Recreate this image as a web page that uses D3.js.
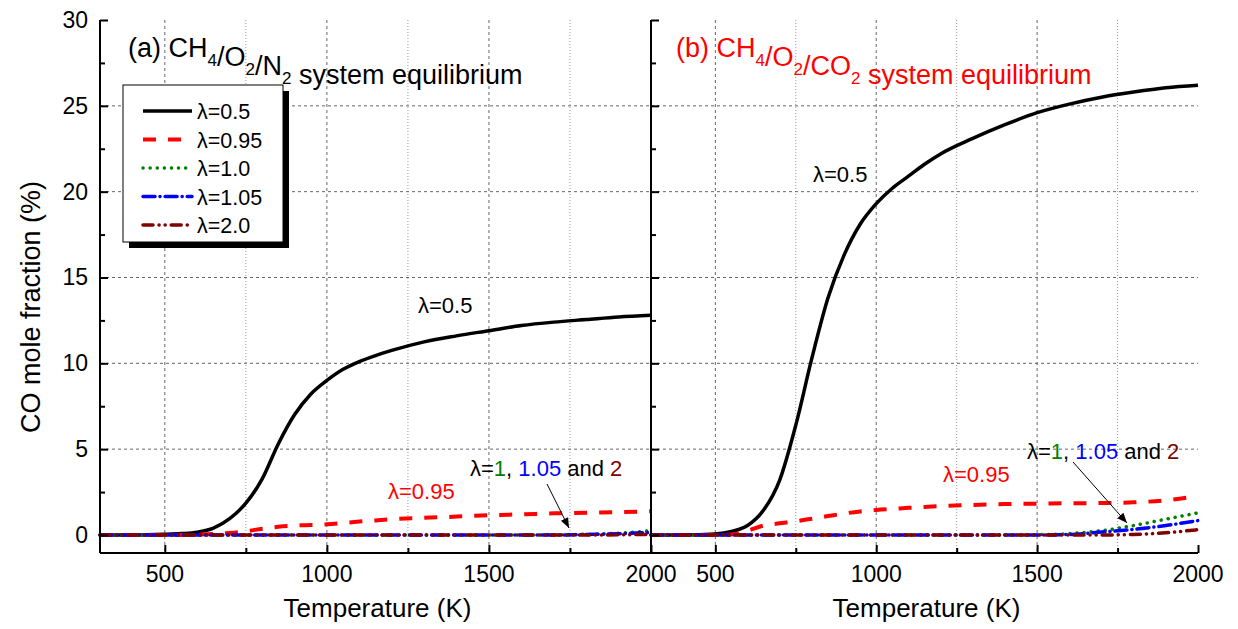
<!doctype html>
<html>
<head>
<meta charset="UTF-8">
<title>CO mole fraction equilibrium</title>
<script src="https://d3js.org/d3.v7.min.js"></script>
<style>
  body { margin: 0; background: #fff; }
  text { font-family: Arial, "Liberation Sans", sans-serif; }
</style>
</head>
<body>
<svg id="chart" width="1238" height="629"></svg>
<script>
// temperature grid (K) shared by all curves
var temps = [300, 400, 500, 550, 600, 650, 700, 750, 800, 850, 900, 950, 1000, 1050,
             1100, 1150, 1200, 1300, 1400, 1500, 1600, 1700, 1800, 1900, 2000];

// (a) CH4/O2/N2 - CO mole fraction (%)
var n2_l050 = [0, 0, 0.04, 0.08, 0.16, 0.4, 0.95, 1.85, 3.25, 5.3, 7.0, 8.2, 9.0, 9.65,
               10.1, 10.45, 10.75, 11.25, 11.6, 11.9, 12.2, 12.4, 12.55, 12.7, 12.8];
var n2_l095 = [0, 0, 0, 0, 0.02, 0.06, 0.12, 0.22, 0.36, 0.48, 0.55, 0.58, 0.62, 0.7,
               0.78, 0.85, 0.92, 1.0, 1.07, 1.15, 1.2, 1.26, 1.3, 1.33, 1.38];
var n2_l100 = [0, 0, 0, 0, 0, 0, 0, 0, 0, 0, 0, 0, 0, 0,
               0, 0, 0, 0, 0, 0, 0, 0.01, 0.04, 0.1, 0.25];
var n2_l105 = [0, 0, 0, 0, 0, 0, 0, 0, 0, 0, 0, 0, 0, 0,
               0, 0, 0, 0, 0, 0, 0, 0, 0.03, 0.07, 0.15];
var n2_l200 = [0, 0, 0, 0, 0, 0, 0, 0, 0, 0, 0, 0, 0, 0,
               0, 0, 0, 0, 0, 0, 0, 0, 0, 0.01, 0.04];

// (b) CH4/O2/CO2 - CO mole fraction (%)
var co2_l050 = [0, 0, 0.06, 0.2, 0.55, 1.45, 3.2, 6.4, 10.3, 13.8, 16.3, 18.1, 19.3, 20.2,
                20.9, 21.6, 22.2, 23.1, 23.9, 24.6, 25.1, 25.5, 25.8, 26.05, 26.2];
var co2_l095 = [0, 0, 0, 0.03, 0.25, 0.55, 0.68, 0.8, 0.95, 1.1, 1.25, 1.37, 1.46, 1.52,
                1.58, 1.63, 1.68, 1.75, 1.8, 1.82, 1.85, 1.86, 1.9, 2.02, 2.26];
var co2_l100 = [0, 0, 0, 0, 0, 0, 0, 0, 0, 0, 0, 0, 0, 0,
                0, 0, 0, 0, 0, 0.02, 0.08, 0.25, 0.55, 0.92, 1.29];
var co2_l105 = [0, 0, 0, 0, 0, 0, 0, 0, 0, 0, 0, 0, 0, 0,
                0, 0, 0, 0, 0, 0, 0.03, 0.17, 0.33, 0.55, 0.84];
var co2_l200 = [0, 0, 0, 0, 0, 0, 0, 0, 0, 0, 0, 0, 0, 0,
                0, 0, 0, 0, 0, 0, 0, 0, 0.03, 0.13, 0.31];

var legendLabels = ["\u03bb=0.5", "\u03bb=0.95", "\u03bb=1.0", "\u03bb=1.05", "\u03bb=2.0"];
var xTicks = [500, 1000, 1500, 2000];
var yTicks = [0, 5, 10, 15, 20, 25, 30];

// line styles per lambda
var styles = [
  {color: "#000000", width: 3.5, dash: null,                 cap: "butt"},
  {color: "#ff0000", width: 4,   dash: "13,12",              cap: "butt"},
  {color: "#008000", width: 3.5, dash: "0.1,7",              cap: "round"},
  {color: "#0000ff", width: 3.5, dash: "12,5,0.1,5",         cap: "round"},
  {color: "#800000", width: 3.5, dash: "10,6,0.1,6,0.1,6",   cap: "round"}
];

var svg = d3.select("#chart");
var plotTop = 20, plotBottom = 553;

var y = d3.scaleLinear().domain([-1.05, 30]).range([plotBottom, plotTop]);

var panels = [
  {x0: 100, x1: 651, series: [n2_l050, n2_l095, n2_l100, n2_l105, n2_l200]},
  {x0: 651, x1: 1198, series: [co2_l050, co2_l095, co2_l100, co2_l105, co2_l200]}
];

panels.forEach(function(p) {
  var x = d3.scaleLinear().domain([300, 2000]).range([p.x0, p.x1]);
  var g = svg.append("g");

  // grid
  [750, 1250, 1750].forEach(function(t) {
    g.append("line").attr("x1", x(t)).attr("x2", x(t)).attr("y1", plotTop).attr("y2", plotBottom)
      .attr("stroke", "#999").attr("stroke-width", 1).attr("stroke-dasharray", "1,2");
  });
  [500, 1000, 1500].forEach(function(t) {
    g.append("line").attr("x1", x(t)).attr("x2", x(t)).attr("y1", plotTop).attr("y2", plotBottom)
      .attr("stroke", "#666").attr("stroke-width", 1).attr("stroke-dasharray", "3,3");
  });
  [5, 10, 15, 20, 25].forEach(function(v) {
    g.append("line").attr("x1", p.x0).attr("x2", p.x1).attr("y1", y(v)).attr("y2", y(v))
      .attr("stroke", "#666").attr("stroke-width", 1).attr("stroke-dasharray", "3,3");
  });

  // curves, later series on top
  var line = d3.line().x(function(d, i) { return x(temps[i]); }).y(function(d) { return y(d); })
    .curve(d3.curveMonotoneX);
  p.series.forEach(function(vals, i) {
    var s = styles[i];
    g.append("path").datum(vals).attr("d", line)
      .attr("fill", "none").attr("stroke", s.color).attr("stroke-width", s.width)
      .attr("stroke-dasharray", s.dash).attr("stroke-linecap", s.cap);
  });

  // x axis (ticks inward)
  var xAxis = d3.axisTop(x).tickValues(xTicks).tickSize(8).tickFormat("");
  g.append("g").attr("transform", "translate(0," + plotBottom + ")").call(xAxis)
    .call(function(a) { a.select(".domain").remove(); });
  var xMinor = d3.axisTop(x).tickValues([750, 1250, 1750]).tickSize(5).tickFormat("");
  g.append("g").attr("transform", "translate(0," + plotBottom + ")").call(xMinor)
    .call(function(a) { a.select(".domain").remove(); });
  g.append("line").attr("x1", p.x0).attr("x2", p.x1).attr("y1", plotBottom).attr("y2", plotBottom)
    .attr("stroke", "#000").attr("stroke-width", 2);
  xTicks.forEach(function(t) {
    g.append("text").attr("x", x(t)).attr("y", plotBottom + 29).attr("text-anchor", "middle")
      .attr("font-size", 23).text(t);
  });
  g.append("text").attr("x", (p.x0 + p.x1) / 2 + 2).attr("y", 617).attr("text-anchor", "middle")
    .attr("font-size", 26).text("Temperature (K)");

  // y axis (ticks inward)
  var yAxis = d3.axisRight(y).tickValues(yTicks).tickSize(8).tickFormat("");
  g.append("g").attr("transform", "translate(" + p.x0 + ",0)").call(yAxis)
    .call(function(a) { a.select(".domain").remove(); });
  var yMinor = d3.axisRight(y).tickValues([2.5, 7.5, 12.5, 17.5, 22.5, 27.5]).tickSize(5).tickFormat("");
  g.append("g").attr("transform", "translate(" + p.x0 + ",0)").call(yMinor)
    .call(function(a) { a.select(".domain").remove(); });
  g.append("line").attr("x1", p.x0).attr("x2", p.x0).attr("y1", plotTop).attr("y2", plotBottom)
    .attr("stroke", "#000").attr("stroke-width", 2);
  g.selectAll(".tick line").attr("stroke-width", 2);
});

// y tick labels (left only)
yTicks.forEach(function(v) {
  svg.append("text").attr("x", 88).attr("y", y(v) + 8).attr("text-anchor", "end")
    .attr("font-size", 23).text(v);
});
svg.append("text").attr("transform", "translate(40,307) rotate(-90)")
  .attr("text-anchor", "middle").attr("font-size", 27).text("CO mole fraction (%)");

// titles with subscripts
function title(xp, parts, color) {
  var t = svg.append("text").attr("x", xp).attr("y", 57).attr("font-size", 27).attr("fill", color);
  parts.forEach(function(pt) {
    if (pt.sub) {
      t.append("tspan").attr("font-size", 17).attr("dy", 9).text(pt.sub);
      t.append("tspan").attr("dy", -9).text("");
    } else {
      t.append("tspan").text(pt.txt);
    }
  });
}
title(128, [{txt: "(a) CH"}, {sub: "4"}, {txt: "/O"}, {sub: "2"}, {txt: "/N"}, {sub: "2"}, {txt: " system equilibrium"}], "#000");
title(676, [{txt: "(b) CH"}, {sub: "4"}, {txt: "/O"}, {sub: "2"}, {txt: "/CO"}, {sub: "2"}, {txt: " system equilibrium"}], "#ff0000");

// legend
var leg = svg.append("g");
leg.append("rect").attr("x", 129).attr("y", 91).attr("width", 160).attr("height", 157).attr("fill", "#000");
leg.append("rect").attr("x", 123).attr("y", 85).attr("width", 160).attr("height", 157)
  .attr("fill", "#fff").attr("stroke", "#000").attr("stroke-width", 1);
legendLabels.forEach(function(lbl, i) {
  var yy = 111 + i * 28.5;
  var s = styles[i];
  leg.append("line").attr("x1", 143).attr("x2", 192).attr("y1", yy).attr("y2", yy)
    .attr("stroke", s.color).attr("stroke-width", s.width)
    .attr("stroke-dasharray", s.dash).attr("stroke-linecap", s.cap);
  leg.append("text").attr("x", 197).attr("y", yy + 8).attr("font-size", 21.5).text(lbl);
});

// annotations
function label(xp, yp, color, txt) {
  svg.append("text").attr("x", xp).attr("y", yp).attr("font-size", 22).attr("fill", color).text(txt);
}
function multi(xp, yp) {
  var t = svg.append("text").attr("x", xp).attr("y", yp).attr("font-size", 22);
  [["\u03bb=", "#000"], ["1", "#008000"], [", ", "#000"], ["1.05", "#0000ff"],
   [" and ", "#000"], ["2", "#800000"]].forEach(function(p) {
    t.append("tspan").attr("fill", p[1]).text(p[0]);
  });
}
svg.append("defs").append("marker").attr("id", "arr").attr("viewBox", "0 0 10 10")
  .attr("refX", 10).attr("refY", 5).attr("markerWidth", 12).attr("markerHeight", 10)
  .attr("markerUnits", "userSpaceOnUse").attr("orient", "auto")
  .append("path").attr("d", "M0,1 L10,5 L0,9 Z").attr("fill", "#000");
function arrow(x1, y1, x2, y2) {
  svg.append("line").attr("x1", x1).attr("y1", y1).attr("x2", x2).attr("y2", y2)
    .attr("stroke", "#000").attr("stroke-width", 1).attr("marker-end", "url(#arr)");
}

label(418, 313, "#000", "\u03bb=0.5");
label(388, 499, "#ff0000", "\u03bb=0.95");
multi(470, 476);
arrow(547, 484, 569, 528);

label(813, 182, "#000", "\u03bb=0.5");
label(943, 482, "#ff0000", "\u03bb=0.95");
multi(1027, 459);
arrow(1073, 462, 1127, 523);
</script>
</body>
</html>
